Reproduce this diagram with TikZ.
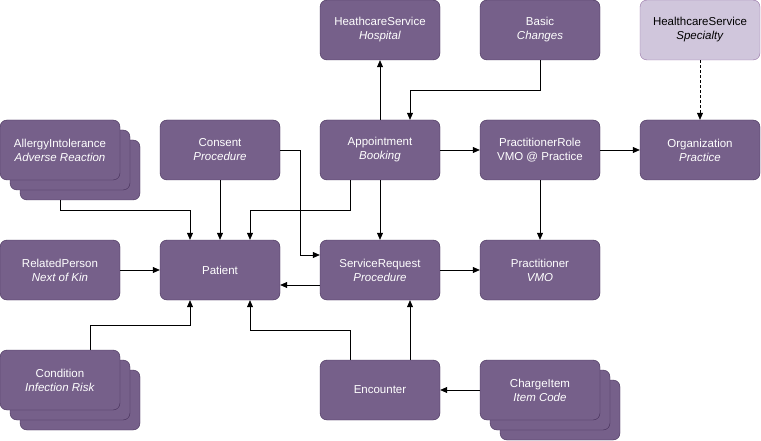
\documentclass[tikz,border=0pt]{standalone}
\usepackage{fontspec}
\setmainfont{Liberation Sans}
\usetikzlibrary{calc, positioning, arrows.meta, shapes}
\definecolor{boxfill}{HTML}{76608A}
\definecolor{boxline}{HTML}{432D57}
\definecolor{lightfill}{HTML}{D0C6DC}
\definecolor{lightline}{HTML}{9673A6}

\begin{document}
\begin{tikzpicture}[x=1pt, y=-1pt,
  box/.style={fill=boxfill, draw=boxline, rounded corners=7pt, minimum width=120pt, minimum height=60pt, text=white, align=center, font=\fontsize{11.5}{14}\selectfont, inner sep=0pt},
  lightbox/.style={box, fill=lightfill, draw=lightline, text=black},
  link/.style={-{Triangle[length=7pt, width=6pt]}, semithick}]
  \useasboundingbox (0,0) rectangle (761,441);

  % stacked boxes first
  \node[box] at (80,170) {};
  \node[box] at (70,160) {};
  \node[box] at (80,400) {};
  \node[box] at (70,390) {};
  \node[box] at (560,410) {};
  \node[box] at (550,400) {};

  \node[box] (hosp) at (380,30) {HeathcareService\\\textit{Hospital}};
  \node[box] (basic) at (540,30) {Basic\\\textit{Changes}};
  \node[lightbox] (spec) at (700,30) {HealthcareService\\\textit{Specialty}};

  \node[box] (allergy) at (60,150) {AllergyIntolerance\\\textit{Adverse Reaction}};
  \node[box] (consent) at (220,150) {Consent\\\textit{Procedure}};
  \node[box] (appt) at (380,150) {Appointment\\\textit{Booking}};
  \node[box] (role) at (540,150) {PractitionerRole\\VMO @ Practice};
  \node[box] (org) at (700,150) {Organization\\\textit{Practice}};

  \node[box] (related) at (60,270) {RelatedPerson\\\textit{Next of Kin}};
  \node[box] (patient) at (220,270) {Patient};
  \node[box] (servreq) at (380,270) {ServiceRequest\\\textit{Procedure}};
  \node[box] (pract) at (540,270) {Practitioner\\\textit{VMO}};

  \node[box] (cond) at (60,380) {Condition\\\textit{Infection Risk}};
  \node[box] (enc) at (380,390) {Encounter};
  \node[box] (charge) at (540,390) {ChargeItem\\\textit{Item Code}};

  \draw[link] (60,200) |- (190,210) -- (patient.north -| 190,0);
  \draw[link] (consent) -- (patient);
  \draw[link] (appt.south -| 350,0) |- (250,210) -- (patient.north -| 250,0);
  \draw[link] (consent.east) -| (300,255) -- (servreq.west |- 0,255);
  \draw[link] (appt) -- (servreq);
  \draw[link] (servreq.west |- 0,285) -- (patient.east |- 0,285);
  \draw[link] (related) -- (patient);
  \draw[link] (cond.north -| 90,0) |- (190,325) -- (patient.south -| 190,0);
  \draw[link] (enc.north -| 350,0) |- (250,330) -- (patient.south -| 250,0);
  \draw[link] (enc.north -| 410,0) -- (servreq.south -| 410,0);
  \draw[link] (charge) -- (enc);
  \draw[link] (appt) -- (hosp);
  \draw[link] (basic.south) |- (410,90) -- (appt.north -| 410,0);
  \draw[link] (appt) -- (role);
  \draw[link] (role) -- (org);
  \draw[link] (role) -- (pract);
  \draw[link] (servreq.east |- 0,270) -- (pract);
  \draw[link, densely dashed] (spec) -- (org);
\end{tikzpicture}
\end{document}
